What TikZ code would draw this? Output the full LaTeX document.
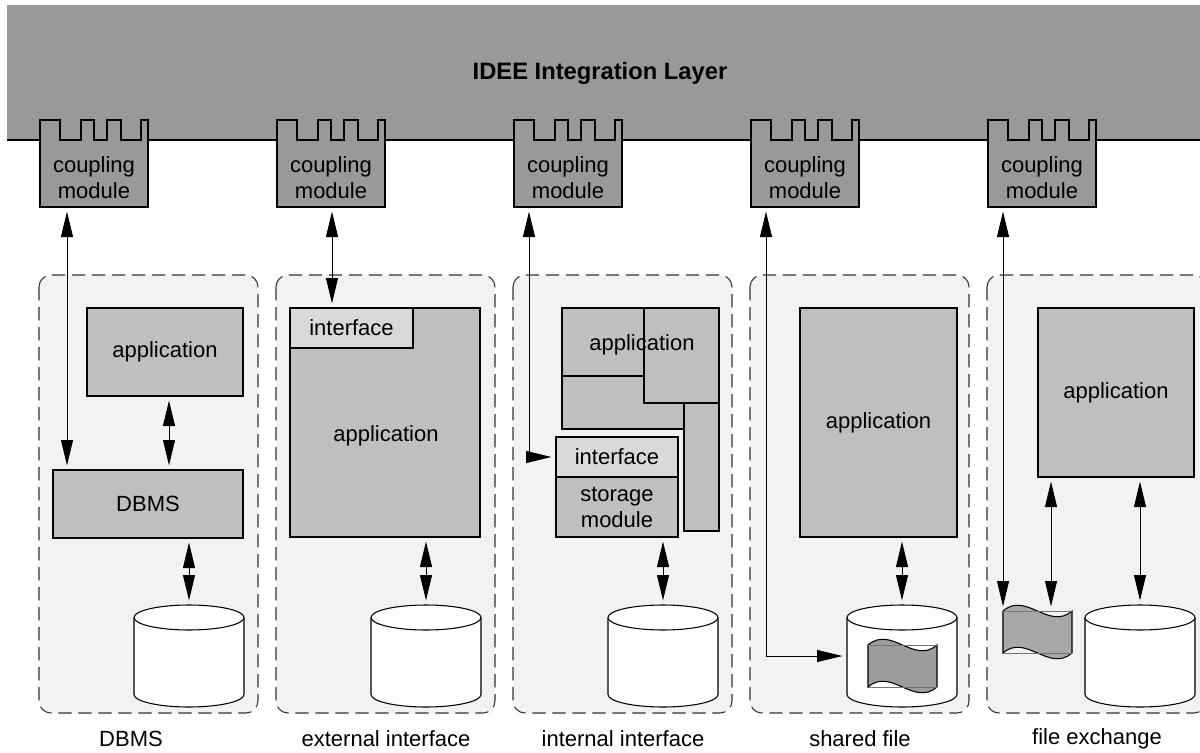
\documentclass[tikz,border=0pt]{standalone}
\usepackage{fontspec}
\setmainfont{Liberation Sans}
\usetikzlibrary{arrows.meta,fit}

\definecolor{layergray}{HTML}{999999}
\definecolor{appgray}{HTML}{BFBFBF}
\definecolor{ifgray}{HTML}{D9D9D9}
\definecolor{groupbg}{HTML}{F2F2F2}
\definecolor{dashgray}{HTML}{333333}
\definecolor{sheetgray}{HTML}{9C9C9C}

\tikzset{
  x=0.75pt, y=-0.75pt,
  txt/.style={font=\fontsize{16.5}{19.5}\selectfont, align=center},
  fitbox/.style={inner sep=0pt, outer sep=0pt},
  outline/.style={draw, line width=0.8pt},
  appbox/.style={fitbox, outline, fill=appgray},
  ifbox/.style={fitbox, outline, fill=ifgray},
  inside/.style={label={[txt]center:#1}},
  group/.style={draw=dashgray, line width=0.8pt, dash pattern=on 10pt off 5pt,
                rounded corners=9pt, fill=groupbg},
  link/.style={line width=0.6pt,
               arrows={Triangle[length=19pt,width=9pt]-Triangle[length=19pt,width=9pt]},
               shorten <=3.5pt, shorten >=3.5pt},
}

% coupling module with battlements on top; #1 name, #2 left x
\newcommand\coupler[2]{%
  \draw[outline, fill=layergray] (#2,207) -- (#2,120) -- ++(20,0) -- ++(0,20)
    -- ++(21,0) -- ++(0,-20) -- ++(13,0) -- ++(0,20) -- ++(13,0) -- ++(0,-20)
    -- ++(14,0) -- ++(0,20) -- ++(20,0) -- ++(0,-20) -- ++(7,0) -- (#2+108,207) -- cycle;
  \node[fitbox, fit={(#2,148) (#2+108,207)}, inside={coupling\\module}] (#1) {};
}

% storage drum; #1 name, #2 centre x, #3 top y
\newcommand\drum[3]{%
  \fill[white] (#2-55,#3+12.5) rectangle (#2+55,#3+89.5);
  \fill[white] (#2,#3+89.5) ellipse [x radius=55, y radius=12.5];
  \draw[line width=0.8pt] (#2-55,#3+12.5) -- (#2-55,#3+89.5)
    arc [start angle=180, end angle=0, x radius=55, y radius=12.5] -- (#2+55,#3+12.5);
  \draw[line width=0.8pt, fill=white] (#2,#3+12.5) ellipse [x radius=55, y radius=12.5];
  \node[fitbox, fit={(#2-55,#3) (#2+55,#3+102)}] (#1) {};
}

% curled sheet (file); #1 name, #2 left x, #3 right x, #4 top y, #5 bottom y, #6 fill
\newcommand\sheet[6]{%
  \draw[line width=0.8pt, fill=#6] (#2,#4)
    .. controls ({(2*#2+#3)/3},{#4-20}) and ({(#2+2*#3)/3},{#4+20}) .. (#3,#4)
    -- (#3,#5)
    .. controls ({(#2+2*#3)/3},{#5+20}) and ({(2*#2+#3)/3},{#5-20}) .. (#2,#5) -- cycle;
  \draw[line width=0.4pt, black!55] (#2,#4) -- (#3,#4) (#2,#5) -- (#3,#5);
  \node[fitbox, fit={(#2,#4) (#3,#5)}] (#1) {};
}

\begin{document}
\begin{tikzpicture}
\useasboundingbox (0,0) rectangle (1200,753);
\clip (0,0) rectangle (1200,753);
\fill[white] (0,0) rectangle (1200,753);

% integration layer band
\fill[layergray] (7,5) rectangle (1200,140);
\draw[line width=0.8pt] (7,140) -- (1200,140);
\node[font=\fontsize{17.8}{20}\selectfont\bfseries] (title) at (600,73) {IDEE Integration Layer};

% coupling modules
\coupler{m1}{40}
\coupler{m2}{277}
\coupler{m3}{514}
\coupler{m4}{751}
\coupler{m5}{988}

% dashed groups
\foreach \i in {0,...,4}
  \path[group] (39+237*\i,275) rectangle (258+237*\i,713);

% group labels
\node[txt] (l1) at (131,739) {DBMS};
\node[txt] (l2) at (386,739) {external interface};
\node[txt] (l3) at (623,739) {internal interface};
\node[txt] (l4) at (860,739) {shared file};
\node[txt] (l5) at (1097,739) {file exchange};

% ---- DBMS
\node[appbox, fit={(87,308) (243,396)}, inside=application] (app1) {};
\node[appbox, fit={(53,470) (243,538)}, inside=DBMS] (dbms) {};
\drum{cyl1}{189}{605}
\coordinate (c1) at (67,0);
\coordinate (d1) at (169,0);
\draw[link] (m1.south -| c1) -- (dbms.north -| c1);
\draw[link] (app1.south -| d1) -- (dbms.north -| d1);
\draw[link] (dbms.south -| cyl1.north) -- (cyl1.north);

% ---- external interface
\node[appbox, fit={(290,308) (480,537)}] (app2) {};
\node[txt] (app2t) at (386,436) {application};
\node[ifbox, fit={(290,308) (413,348)}, inside=interface] (if2) {};
\drum{cyl2}{426}{605}
\coordinate (c2) at (332,0);
\draw[link] (m2.south -| c2) -- (if2.north -| c2);
\draw[link] (app2.south -| cyl2.north) -- (cyl2.north);

% ---- internal interface
\fill[appgray] (562,308) -- (719,308) -- (719,531) -- (684,531) -- (684,429) -- (562,429) -- cycle;
\draw[line width=0.8pt] (562,308) -- (719,308) -- (719,531) -- (684,531) -- (684,429) -- (562,429) -- cycle;
\draw[line width=0.8pt] (562,376) -- (644,376) (644,308) -- (644,403) -- (719,403) (684,403) -- (684,429);
\node[txt] (app3) at (642,345) {application};
\node[ifbox, fit={(556,437) (678,477)}, inside=interface] (if3) {};
\node[appbox, fit={(556,477) (678,537)}, inside={storage\\module}] (stor) {};
\drum{cyl3}{663}{605}
\coordinate (c3) at (529,0);
\draw[link] (m3.south -| c3) |- (if3.west);
\draw[link] (stor.south -| cyl3.north) -- (cyl3.north);

% ---- shared file
\node[appbox, fit={(800,308) (957,537)}, inside=application] (app4) {};
\drum{cyl4}{902}{605}
\sheet{f4}{868}{937}{645}{687}{sheetgray}
\coordinate (c4) at (766,0);
\draw[link] (m4.south -| c4) |- (cyl4.west);
\draw[link] (app4.south -| cyl4.north) -- (cyl4.north);

% ---- file exchange
\node[appbox, fit={(1038,308) (1194,477)}, inside=application] (app5) {};
\drum{cyl5}{1140}{605}
\sheet{f5}{1003}{1072}{611}{653}{layergray!85!white}
\coordinate (c5) at (1003,0);
\coordinate (d5) at (1051,0);
\draw[link] (m5.south -| c5) -- (f5.north -| c5);
\draw[link] (app5.south -| d5) -- (f5.north -| d5);
\draw[link] (app5.south -| cyl5.north) -- (cyl5.north);
\end{tikzpicture}
\end{document}
